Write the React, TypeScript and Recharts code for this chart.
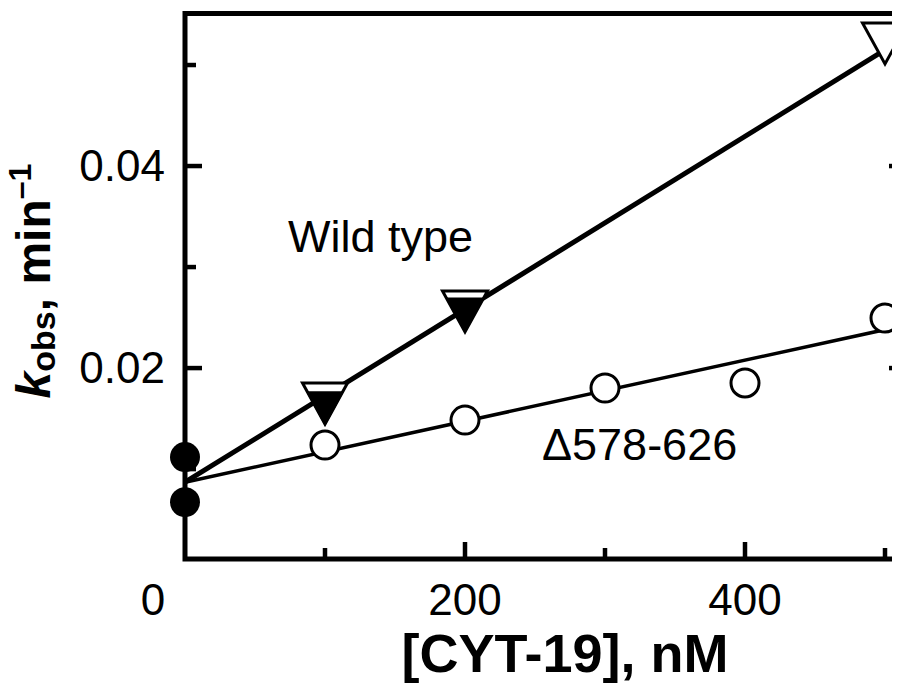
import React from 'react';
import { ComposedChart, XAxis, YAxis, Line, Scatter, Customized } from 'recharts';

const FONT = '"Liberation Sans", Arial, Helvetica, sans-serif';

// axes
const xTicks = [0, 100, 200, 300, 400, 500];
const xMajorTicks = [200, 400];
const xLabelledTicks = [0, 200, 400];
const yTicks = [0.01, 0.02, 0.03, 0.04, 0.05];
const yMajorTicks = [0.02, 0.04];
const xDomain = [0, 515];
const yDomain = [0.0011, 0.0551];

// Wild type (open inverted triangles)
const wtOpenX = [100, 200, 500];
const wtOpenY = [0.01649, 0.0256, 0.05213];
// Wild type (filled inverted triangles)
const wtFilledX = [100, 200];
const wtFilledY = [0.01597, 0.02525];
// Δ578-626 (open circles)
const mutX = [100, 200, 300, 400, 500];
const mutY = [0.01238, 0.01485, 0.01802, 0.01852, 0.02495];
// no CYT-19 (filled circles)
const zeroX = [0, 0];
const zeroY = [0.01119, 0.00673];
// fitted lines
const wtFitX = [0, 500];
const wtFitY = [0.0087, 0.0515];
const mutFitX = [0, 515];
const mutFitY = [0.0087, 0.02426];

const zip = (xs: number[], ys: number[]) => xs.map((x, i) => ({ x, y: ys[i] }));
const wtOpen = zip(wtOpenX, wtOpenY);
const wtFilled = zip(wtFilledX, wtFilledY);
const mut = zip(mutX, mutY);
const zero = zip(zeroX, zeroY);
const wtFit = zip(wtFitX, wtFitY);
const mutFit = zip(mutFitX, mutFitY);

// layout
const CHART_W = 908;
const CHART_H = 678;
const M_TOP = 5.5;
const LEFT_W = 177;
const RIGHT_W = 10;
const BOTTOM_H = 127;
const PLOT_W = CHART_W - LEFT_W - RIGHT_W;
const PLOT_H = CHART_H - M_TOP - BOTTOM_H;

const MAJOR = 17;
const MINOR = 11;
const TICKW = 4.5;
const FRAMEW = 5;
const near = (a: number, list: number[]) => list.some((b) => Math.abs(a - b) < 1e-9);

const BottomTick = (props: any) => {
  const { x, y, payload } = props;
  const v = payload.value;
  const len = v === 0 ? 0 : near(v, xMajorTicks) ? MAJOR : MINOR;
  const lab = near(v, xLabelledTicks);
  const dx = v === 0 ? -32 : 0;
  return (
    <g>
      {len > 0 && <line x1={x} x2={x} y1={y} y2={y - len} stroke="#000" strokeWidth={TICKW} />}
      {lab && (
        <text x={x + dx} y={y + 56} textAnchor="middle" fontSize={44} fontFamily={FONT} fill="#000">
          {String(v)}
        </text>
      )}
    </g>
  );
};

const TopTick = (props: any) => {
  const { x, y, payload } = props;
  const v = payload.value;
  const len = v === 0 ? 0 : near(v, xMajorTicks) ? MAJOR : MINOR;
  return <g>{len > 0 && <line x1={x} x2={x} y1={y} y2={y + len} stroke="#000" strokeWidth={TICKW} />}</g>;
};

const LeftTick = (props: any) => {
  const { x, y, payload } = props;
  const v = payload.value;
  const major = near(v, yMajorTicks);
  return (
    <g>
      <line x1={x} x2={x + (major ? MAJOR : MINOR)} y1={y} y2={y} stroke="#000" strokeWidth={TICKW} />
      {major && (
        <text x={x - 20} y={y} dy={15} textAnchor="end" fontSize={44} fontFamily={FONT} fill="#000">
          {v.toFixed(2)}
        </text>
      )}
    </g>
  );
};

const RightTick = (props: any) => {
  const { x, y, payload } = props;
  const v = payload.value;
  const major = near(v, yMajorTicks);
  return <line x1={x} x2={x - (major ? MAJOR : MINOR)} y1={y} y2={y} stroke="#000" strokeWidth={TICKW} />;
};

const OpenCircle = (p: any) => <circle cx={p.cx} cy={p.cy} r={14} fill="#fff" stroke="#000" strokeWidth={3} />;
const FilledCircle = (p: any) => <circle cx={p.cx} cy={p.cy} r={15} fill="#000" />;
const tri = (cx: number, cy: number, w: number, h: number) =>
  `${cx - w / 2},${cy - h / 2} ${cx + w / 2},${cy - h / 2} ${cx},${cy + h / 2}`;
const OpenTri = (p: any) => (
  <polygon points={tri(p.cx, p.cy, 45, 41)} fill="#fff" stroke="#000" strokeWidth={3} strokeLinejoin="miter" />
);
const FilledTri = (p: any) => <polygon points={tri(p.cx, p.cy, 38, 35)} fill="#000" />;
const Hidden = () => <g />;

const Frame = () => (
  <rect x={LEFT_W} y={M_TOP} width={PLOT_W} height={PLOT_H} fill="none" stroke="#000" strokeWidth={FRAMEW} />
);

const Annotations = () => (
  <g fontFamily={FONT} fill="#000">
    <text x={280} y={244} fontSize={45}>Wild type</text>
    <text x={534} y={452} fontSize={45}>Δ578-626</text>
    <text x={557} y={664} fontSize={54} fontWeight="bold" textAnchor="middle">[CYT-19], nM</text>
    <text transform="rotate(-90, 42, 273)" x={42} y={273} textAnchor="middle" fontSize={48} fontWeight="bold">
      <tspan fontStyle="italic">k</tspan>
      <tspan fontSize={34} dy={5}>obs</tspan>
      <tspan dy={-5}>, min</tspan>
      <tspan fontSize={32} dy={-19}>–1</tspan>
    </text>
  </g>
);

export default function App() {
  return (
    <div style={{ width: 892, height: CHART_H, overflow: 'hidden' }}>
      <ComposedChart width={CHART_W} height={CHART_H} margin={{ top: M_TOP, right: 0, bottom: 0, left: 0 }}>
        <XAxis
          dataKey="x"
          type="number"
          domain={xDomain}
          ticks={xTicks}
          interval={0}
          tickSize={0}
          tickMargin={0}
          tickLine={false}
          tick={BottomTick}
          axisLine={false}
          height={BOTTOM_H}
        />
        <XAxis
          xAxisId="top"
          orientation="top"
          dataKey="x"
          type="number"
          domain={xDomain}
          ticks={xTicks}
          interval={0}
          tickSize={0}
          tickMargin={0}
          tickLine={false}
          tick={TopTick}
          axisLine={false}
          height={0}
        />
        <YAxis
          dataKey="y"
          type="number"
          domain={yDomain}
          ticks={yTicks}
          interval={0}
          tickSize={0}
          tickMargin={0}
          tickLine={false}
          tick={LeftTick}
          axisLine={false}
          width={LEFT_W}
        />
        <YAxis
          yAxisId="right"
          orientation="right"
          dataKey="y"
          type="number"
          domain={yDomain}
          ticks={yTicks}
          interval={0}
          tickSize={0}
          tickMargin={0}
          tickLine={false}
          tick={RightTick}
          axisLine={false}
          width={RIGHT_W}
        />
        <Line data={wtFit} dataKey="y" type="linear" stroke="#000" strokeWidth={5} dot={false} activeDot={false} isAnimationActive={false} />
        <Line data={mutFit} dataKey="y" type="linear" stroke="#000" strokeWidth={3.5} dot={false} activeDot={false} isAnimationActive={false} />
        <Scatter data={mut} dataKey="y" shape={OpenCircle} isAnimationActive={false} />
        <Scatter data={zero} dataKey="y" shape={FilledCircle} isAnimationActive={false} />
        <Scatter data={wtOpen} dataKey="y" shape={OpenTri} isAnimationActive={false} />
        <Scatter data={wtFilled} dataKey="y" shape={FilledTri} isAnimationActive={false} />
        <Scatter data={mut} dataKey="y" xAxisId="top" yAxisId="right" shape={Hidden} isAnimationActive={false} />
        <Customized component={Frame} />
        <Customized component={Annotations} />
      </ComposedChart>
    </div>
  );
}
